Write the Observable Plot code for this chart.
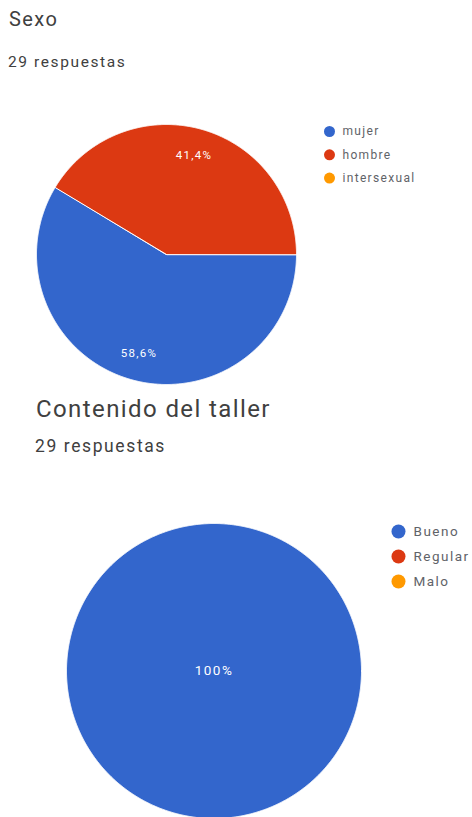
<!DOCTYPE html>
<html><head><meta charset="utf-8">
<script src="https://cdn.jsdelivr.net/npm/d3@7"></script>
<script src="https://cdn.jsdelivr.net/npm/@observablehq/plot@0.6"></script>
<style>
body{margin:0;background:#fff;font-family:Roboto,sans-serif;}
#page{position:relative;width:472px;height:817px;overflow:hidden;background:#fff;}
.t{position:absolute;white-space:nowrap;line-height:1;font-family:Roboto,sans-serif;}
.chart{position:absolute;left:0;}
.chart svg text{letter-spacing:0.11em;}
</style></head><body><div id="page"></div>
<script>
// ---- data ----
const sexoTitle = "Sexo";
const sexoSubtitle = "29 respuestas";
const sexoCategories = ["mujer", "hombre", "intersexual"];
const sexoValues = [17, 12, 0];

const contenidoTitle = "Contenido del taller";
const contenidoSubtitle = "29 respuestas";
const contenidoCategories = ["Bueno", "Regular", "Malo"];
const contenidoValues = [29, 0, 0];

const palette = ["#3366cc", "#dc3912", "#ff9900"];

// ---- helpers ----
const W = 472;
const pct = v => (Math.round(v * 1000) / 10).toString().replace(".", ",") + "%";
const page = document.getElementById("page");

function addText(txt, left, top, size, color, ls) {
  const d = document.createElement("div");
  d.className = "t";
  d.textContent = txt;
  Object.assign(d.style, {left: left + "px", top: top + "px", fontSize: size + "px", color, letterSpacing: ls + "px"});
  page.appendChild(d);
}

function pieChart(o) {
  const arcs = d3.pie().sort(null).startAngle(Math.PI / 2).endAngle(Math.PI * 2.5)(o.vals);
  const total = d3.sum(o.vals);
  const slices = [], labels = [];
  arcs.forEach((a, i) => {
    if (!(a.value > 0)) return;
    const cat = o.cats[i];
    const span = a.endAngle - a.startAngle;
    const full = span >= 2 * Math.PI - 1e-6;
    if (!full) slices.push({cat, px: o.cx, py: o.cy});
    const n = Math.ceil(span / 0.004);
    for (let k = 0; k <= n; k++) {
      const t = a.startAngle + span * k / n;
      slices.push({cat, px: o.cx + o.r * Math.sin(t), py: o.cy - o.r * Math.cos(t)});
    }
    const m = (a.startAngle + a.endAngle) / 2, lr = full ? 0 : o.labelFrac * o.r;
    labels.push({px: o.cx + lr * Math.sin(m), py: o.cy - lr * Math.cos(m), text: pct(a.value / total)});
  });
  const legend = o.cats.map((c, i) => ({cat: c, px: o.legendX, py: o.legendY + i * o.legendStep}));
  const svg = Plot.plot({
    width: W, height: o.height, margin: 0,
    x: {domain: [0, W], range: [0, W], axis: null},
    y: {domain: [0, o.height], range: [0, o.height], axis: null},
    color: {domain: o.cats, range: palette},
    style: {fontFamily: "Roboto, sans-serif", overflow: "visible", background: "transparent"},
    marks: [
      Plot.line(slices, {x: "px", y: "py", z: "cat", fill: "cat", stroke: "white", strokeWidth: 1, curve: "linear-closed"}),
      Plot.text(labels, {x: "px", y: "py", text: "text", fill: "white", fontSize: o.labelSize}),
      Plot.dot(legend, {x: "px", y: "py", fill: "cat", r: o.legendR}),
      Plot.text(legend, {x: "px", y: "py", text: "cat", dx: o.legendDx, textAnchor: "start", fill: "#5f6368", fontSize: o.legendSize})
    ]
  });
  const wrap = document.createElement("div");
  wrap.className = "chart";
  wrap.style.top = o.top + "px";
  wrap.appendChild(svg);
  page.appendChild(wrap);
}

// ---- chart 1 ----
addText(sexoTitle, 9, 9.3, 20, "#404040", 1.4);
addText(sexoSubtitle, 8, 54.5, 15.5, "#404040", 1.6);
pieChart({cats: sexoCategories, vals: sexoValues, top: 110, height: 280,
  cx: 166, cy: 144, r: 130, labelFrac: 0.79, labelSize: 11.5,
  legendX: 329, legendY: 21, legendStep: 23.3, legendR: 5.5, legendDx: 13, legendSize: 12});

// ---- chart 2 ----
addText(contenidoTitle, 36, 397.1, 24, "#404040", 1.4);
addText(contenidoSubtitle, 35, 438.1, 17.5, "#404040", 1.6);
pieChart({cats: contenidoCategories, vals: contenidoValues, top: 470, height: 347,
  cx: 213.5, cy: 200.5, r: 147.5, labelFrac: 0.79, labelSize: 13.5,
  legendX: 398, legendY: 61, legendStep: 25, legendR: 7, legendDx: 15, legendSize: 13.5});
</script>
</body></html>
